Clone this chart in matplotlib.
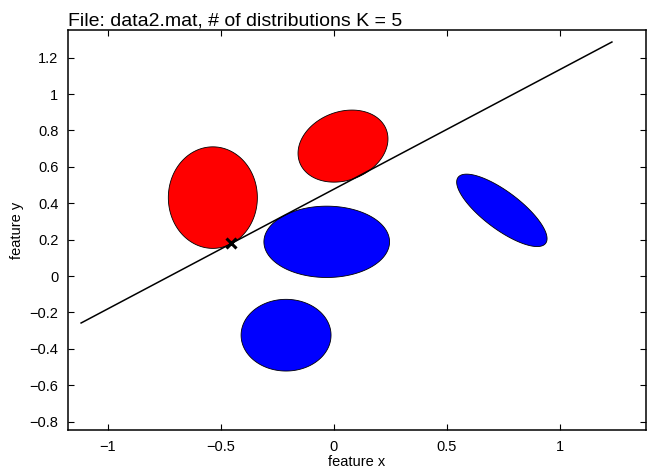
import numpy as np
import matplotlib
matplotlib.use("Agg")
import matplotlib.pyplot as plt

plt.rcParams['font.family'] = ['Liberation Sans', 'DejaVu Sans']

# Gaussian component ellipses (center, half-width, half-height, correlation)
centers_x = [-0.536, 0.040, -0.032, -0.212, 0.743]
centers_y = [0.431, 0.714, 0.188, -0.325, 0.361]
half_w = [0.197, 0.199, 0.278, 0.199, 0.200]
half_h = [0.279, 0.198, 0.196, 0.197, 0.199]
corr = [0.0, 0.20, 0.0, 0.0, -0.78]
colors = ['red', 'red', 'blue', 'blue', 'blue']

# decision line endpoints
line_x = [-1.119, 1.230]
line_y = [-0.258, 1.286]

# marked point
mark_x = [-0.456]
mark_y = [0.181]

xticks = [-1, -0.5, 0, 0.5, 1]
xticklabels = ['\u22121', '\u22120.5', '0', '0.5', '1']
yticks = [-0.8, -0.6, -0.4, -0.2, 0, 0.2, 0.4, 0.6, 0.8, 1.0, 1.2]
yticklabels = ['\u22120.8', '\u22120.6', '\u22120.4', '\u22120.2', '0', '0.2', '0.4',
               '0.6', '0.8', '1', '1.2']

fig = plt.figure(figsize=(6.57, 4.68), dpi=100)
ax = fig.add_axes([0.1035, 0.0812, 0.8798, 0.8547])

t = np.linspace(0, 2 * np.pi, 300)
for cx, cy, sx, sy, r, c in zip(centers_x, centers_y, half_w, half_h, corr, colors):
    ex = cx + sx * np.cos(t)
    ey = cy + sy * (r * np.cos(t) + np.sqrt(1 - r * r) * np.sin(t))
    ax.fill(ex, ey, facecolor=c, edgecolor='black', linewidth=0.6, zorder=2)

ax.plot(line_x, line_y, color='black', linewidth=1.1, zorder=3)
ax.plot(mark_x, mark_y, marker='x', color='black', markersize=6.5,
        markeredgewidth=2.2, linestyle='none', zorder=4)

ax.set_xlim(-1.177, 1.381)
ax.set_ylim(-0.846, 1.352)
ax.set_xticks(xticks)
ax.set_xticklabels(xticklabels)
ax.set_yticks(yticks)
ax.set_yticklabels(yticklabels)
ax.tick_params(direction='in', length=4, width=0.8, top=True, right=True,
               labelsize=10.5, pad=7)
for s in ax.spines.values():
    s.set_linewidth(1.1)

ax.set_xlabel('feature x', fontsize=10.5, labelpad=1)
ax.set_ylabel('feature y', fontsize=10.5, labelpad=4)
ax.set_title('File: data2.mat, # of distributions K = 5', loc='left',
             fontsize=14, pad=3.5)

fig.savefig('out.png', dpi=100)
